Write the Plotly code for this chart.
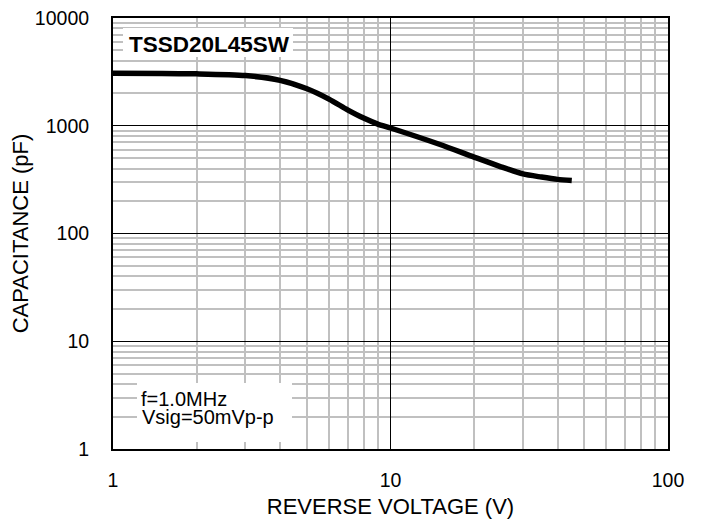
import plotly.graph_objects as go

# Data
voltage = [1, 1.5, 2, 3, 4, 5, 6, 7, 8, 9, 10, 15, 20, 25, 30, 35, 40, 45]
capacitance = [3077, 3055, 3031, 2924, 2636, 2202, 1767, 1406, 1178, 1037, 953,
               673, 512, 416, 357, 334, 318, 310]

x_major = [1, 10, 100]
y_major = [1, 10, 100, 1000, 10000]
x_minor = [m * d for d in (1, 10) for m in range(2, 10)]
y_minor = [m * d for d in (1, 10, 100, 1000) for m in range(2, 10)]

# window size and page offset of the plot div (default body margin)
WIN_W, WIN_H, OFF = 706, 531, 8
W, H = WIN_W - OFF, WIN_H - OFF
# plot area in window pixels
L, R, T, B = 113, 668, 18, 449
FONT = "Liberation Sans, Arial, sans-serif"


def px(x):
    return (x - L) / (R - L)


def py(y):
    return (B - y) / (B - T)


fig = go.Figure()
fig.add_trace(go.Scatter(
    x=voltage, y=capacitance, mode="lines",
    line=dict(color="black", width=5.5, shape="spline", smoothing=0.7),
    showlegend=False, hoverinfo="skip",
))

axis_common = dict(
    type="log",
    showline=True, linecolor="black", linewidth=2, mirror=True,
    showgrid=True, gridcolor="black", gridwidth=1,
    ticks="outside", ticklen=0, tickcolor="rgba(0,0,0,0)",
    tickfont=dict(family=FONT, size=19.5, color="black"),
    ticklabeloverflow="allow",
    zeroline=False,
)

fig.update_xaxes(
    **axis_common,
    range=[-0.00001, 2.00001],
    tickmode="array", tickvals=x_major, ticktext=[str(v) for v in x_major],
    minor=dict(tickmode="array", tickvals=x_minor, showgrid=True,
               gridcolor="#c0c0c0", gridwidth=2, ticklen=0),
    ticklabelstandoff=13,
    title=dict(text="REVERSE VOLTAGE (V)", font=dict(family=FONT, size=22, color="black"),
               standoff=8),
)
fig.update_yaxes(
    **axis_common,
    range=[-0.00001, 4.00001],
    tickmode="array", tickvals=y_major, ticktext=[str(v) for v in y_major],
    minor=dict(tickmode="array", tickvals=y_minor, showgrid=True,
               gridcolor="#c0c0c0", gridwidth=2, ticklen=0),
    ticklabelstandoff=18,
    title=dict(text="CAPACITANCE (pF)", font=dict(family=FONT, size=22, color="black"),
               standoff=5),
)

# White boxes behind labels
fig.add_annotation(xref="paper", yref="paper", x=px(208), y=py(42.5),
                   xanchor="center", yanchor="middle",
                   text=" ", showarrow=False, width=170, height=29,
                   bgcolor="white", borderpad=0, borderwidth=0)
fig.add_annotation(xref="paper", yref="paper", x=px(214.5), y=py(412.5),
                   xanchor="center", yanchor="middle",
                   text=" ", showarrow=False, width=155, height=59,
                   bgcolor="white", borderpad=0, borderwidth=0)

fig.add_annotation(xref="paper", yref="paper", x=px(209), y=py(45),
                   xanchor="center", yanchor="middle",
                   text="<b>TSSD20L45SW</b>", showarrow=False,
                   font=dict(family=FONT, size=22.5, color="black"))
fig.add_annotation(xref="paper", yref="paper", x=px(139), y=py(398.5),
                   xanchor="left", yanchor="middle", text="f=1.0MHz", showarrow=False,
                   font=dict(family=FONT, size=20, color="black"))
fig.add_annotation(xref="paper", yref="paper", x=px(140), y=py(417),
                   xanchor="left", yanchor="middle", text="Vsig=50mVp-p", showarrow=False,
                   font=dict(family=FONT, size=20, color="black"))

fig.update_layout(
    width=W, height=H,
    margin=dict(l=L - OFF, r=W - (R - OFF), t=T - OFF, b=H - (B - OFF), autoexpand=False),
    paper_bgcolor="white", plot_bgcolor="white",
    font=dict(family=FONT, color="black"),
)

fig.write_html("out.html")
